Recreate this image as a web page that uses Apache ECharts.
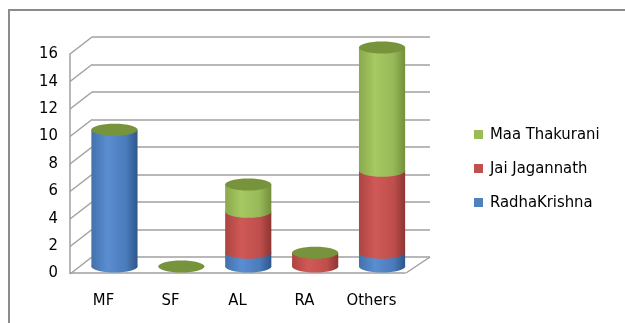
<!DOCTYPE html>
<html>
<head>
<meta charset="utf-8">
<script src="https://cdn.jsdelivr.net/npm/echarts@6/dist/echarts.min.js"></script>
<style>
  html, body { margin: 0; padding: 0; background: #fff; }
  #main { width: 625px; height: 323px; }
</style>
</head>
<body>
<div id="main"></div>
<script>
// Chart data
const categories = ['MF', 'SF', 'AL', 'RA', 'Others'];
const radhaKrishna = [10, 0, 1, 0, 1];
const jaiJagannath = [0, 0, 3, 1, 6];
const maaThakurani = [0, 0, 2, 0, 9];
const yTicks = [0, 2, 4, 6, 8, 10, 12, 14, 16];

const FONT = "'DejaVu Sans Condensed', 'Liberation Sans', sans-serif";
const FONT_SIZE = 16.5;
const GRID_COLOR = '#a0a0a0';
// depth offset of the 3D floor / walls
const DEPTH_X = 22;
const DEPTH_Y = 17;

let myChart = echarts.init(document.getElementById('main'));

// Stack bases
const baseRK = radhaKrishna.map(() => 0);
const baseJJ = radhaKrishna.slice();
const baseMT = radhaKrishna.map((v, i) => v + jaiJagannath[i]);
const totals = radhaKrishna.map((v, i) => v + jaiJagannath[i] + maaThakurani[i]);

function cylGradient(stops) {
    return new echarts.graphic.LinearGradient(0, 0, 1, 0, [
        {offset: 0, color: stops[0]},
        {offset: 0.35, color: stops[1]},
        {offset: 0.75, color: stops[2]},
        {offset: 1, color: stops[3]}
    ]);
}

const blueGrad = ['#4371ab', '#5a8ed1', '#4a7bbb', '#2e568a'];
const redGrad = ['#ad4441', '#d05956', '#be4f4c', '#8e3532'];
const greenGrad = ['#89a94c', '#a7c962', '#96b858', '#74903b'];

// One cylinder segment: bottom ellipse + body
function segmentRender(values, bases, stops) {
    return function (params, api) {
        let i = params.dataIndex;
        let v = values[i];
        if (!v) return;
        let p0 = api.coord([i, bases[i]]);
        let p1 = api.coord([i, bases[i] + v]);
        let rx = api.size([1, 0])[0] * 0.345;
        let ry = 6;
        let fill = cylGradient(stops);
        return {
            type: 'group',
            children: [
                {
                    type: 'ellipse',
                    shape: {cx: p0[0], cy: p0[1], rx: rx, ry: ry},
                    style: {fill: fill}
                },
                {
                    type: 'rect',
                    shape: {x: p0[0] - rx, y: p1[1], width: rx * 2, height: p0[1] - p1[1]},
                    style: {fill: fill}
                }
            ]
        };
    };
}

// Top cap of each cylinder
function capRender(params, api) {
    let i = params.dataIndex;
    let p = api.coord([i, totals[i]]);
    let rx = api.size([1, 0])[0] * 0.345;
    return {
        type: 'ellipse',
        shape: {cx: p[0], cy: p[1], rx: rx, ry: 6},
        style: {fill: '#77933c'}
    };
}

// Diagonal lines from back wall gridlines to the front
function depthRender(params, api) {
    let v = yTicks[params.dataIndex];
    let p = api.coord([0, v]);
    let band = api.size([1, 0])[0];
    let xl = p[0] - band / 2;
    let lines = [{
        type: 'line',
        shape: {x1: xl, y1: p[1], x2: xl - DEPTH_X, y2: p[1] + DEPTH_Y},
        style: {stroke: GRID_COLOR, lineWidth: 1.5}
    }];
    if (v === 0) {
        let pr = api.coord([categories.length - 1, 0]);
        let xr = pr[0] + band / 2;
        lines.push({
            type: 'line',
            shape: {x1: xr, y1: pr[1], x2: xr - DEPTH_X - 2, y2: pr[1] + DEPTH_Y - 1},
            style: {stroke: GRID_COLOR, lineWidth: 1.5}
        });
    }
    return {type: 'group', children: lines};
}

let option = {
    backgroundColor: '#ffffff',
    animation: false,
    graphic: [{
        type: 'polyline',
        shape: {points: [[9, 323], [9, 10], [625, 10]]},
        style: {stroke: '#8c8c8c', lineWidth: 2, fill: null}
    }],
    legend: {
        orient: 'vertical',
        left: 469,
        top: 121,
        icon: 'rect',
        itemWidth: 9,
        itemHeight: 9,
        itemGap: 17,
        textStyle: {
            fontFamily: FONT,
            fontSize: FONT_SIZE,
            color: '#000',
            padding: [0, 0, 0, 2]
        },
        data: ['Maa Thakurani', 'Jai Jagannath', 'RadhaKrishna']
    },
    grid: [
        // back wall
        {left: 92, right: 195, top: 37, bottom: 66},
        // cylinders (mid depth)
        {left: 81, right: 209.5, top: 47.5, bottom: 56.5},
        // front axes
        {left: 70, right: 220, top: 54, bottom: 50}
    ],
    xAxis: [
        {gridIndex: 0, type: 'category', data: categories, show: false},
        {gridIndex: 1, type: 'category', data: categories, show: false},
        {
            gridIndex: 2,
            type: 'category',
            data: categories,
            axisLine: {show: true, lineStyle: {color: GRID_COLOR, width: 1.5}},
            axisTick: {show: false},
            axisLabel: {interval: 0, fontFamily: FONT, fontSize: FONT_SIZE, color: '#000', margin: 19}
        }
    ],
    yAxis: [
        {
            gridIndex: 0,
            type: 'value',
            min: 0,
            max: 16,
            interval: 2,
            axisLine: {show: false},
            axisTick: {show: false},
            axisLabel: {show: false},
            splitLine: {show: true, lineStyle: {color: GRID_COLOR, width: 1.5}}
        },
        {gridIndex: 1, type: 'value', min: 0, max: 16, interval: 2, show: false},
        {
            gridIndex: 2,
            type: 'value',
            min: 0,
            max: 16,
            interval: 2,
            axisLine: {show: true, lineStyle: {color: GRID_COLOR, width: 1.5}},
            axisTick: {show: false},
            splitLine: {show: false},
            axisLabel: {fontFamily: FONT, fontSize: FONT_SIZE, color: '#000', margin: 12}
        }
    ],
    series: [
        {
            type: 'custom',
            xAxisIndex: 0,
            yAxisIndex: 0,
            silent: true,
            renderItem: depthRender,
            data: yTicks.map((v) => [0, v])
        },
        {
            name: 'RadhaKrishna',
            type: 'custom',
            xAxisIndex: 1,
            yAxisIndex: 1,
            itemStyle: {color: '#4f81bd'},
            renderItem: segmentRender(radhaKrishna, baseRK, blueGrad),
            data: radhaKrishna.map((v, i) => [i, v])
        },
        {
            name: 'Jai Jagannath',
            type: 'custom',
            xAxisIndex: 1,
            yAxisIndex: 1,
            itemStyle: {color: '#c0504d'},
            renderItem: segmentRender(jaiJagannath, baseJJ, redGrad),
            data: jaiJagannath.map((v, i) => [i, v])
        },
        {
            name: 'Maa Thakurani',
            type: 'custom',
            xAxisIndex: 1,
            yAxisIndex: 1,
            itemStyle: {color: '#9bbb59'},
            renderItem: segmentRender(maaThakurani, baseMT, greenGrad),
            data: maaThakurani.map((v, i) => [i, v])
        },
        {
            name: 'cap',
            type: 'custom',
            xAxisIndex: 1,
            yAxisIndex: 1,
            renderItem: capRender,
            data: totals.map((v, i) => [i, v])
        }
    ]
};

option && myChart.setOption(option);
</script>
</body>
</html>
